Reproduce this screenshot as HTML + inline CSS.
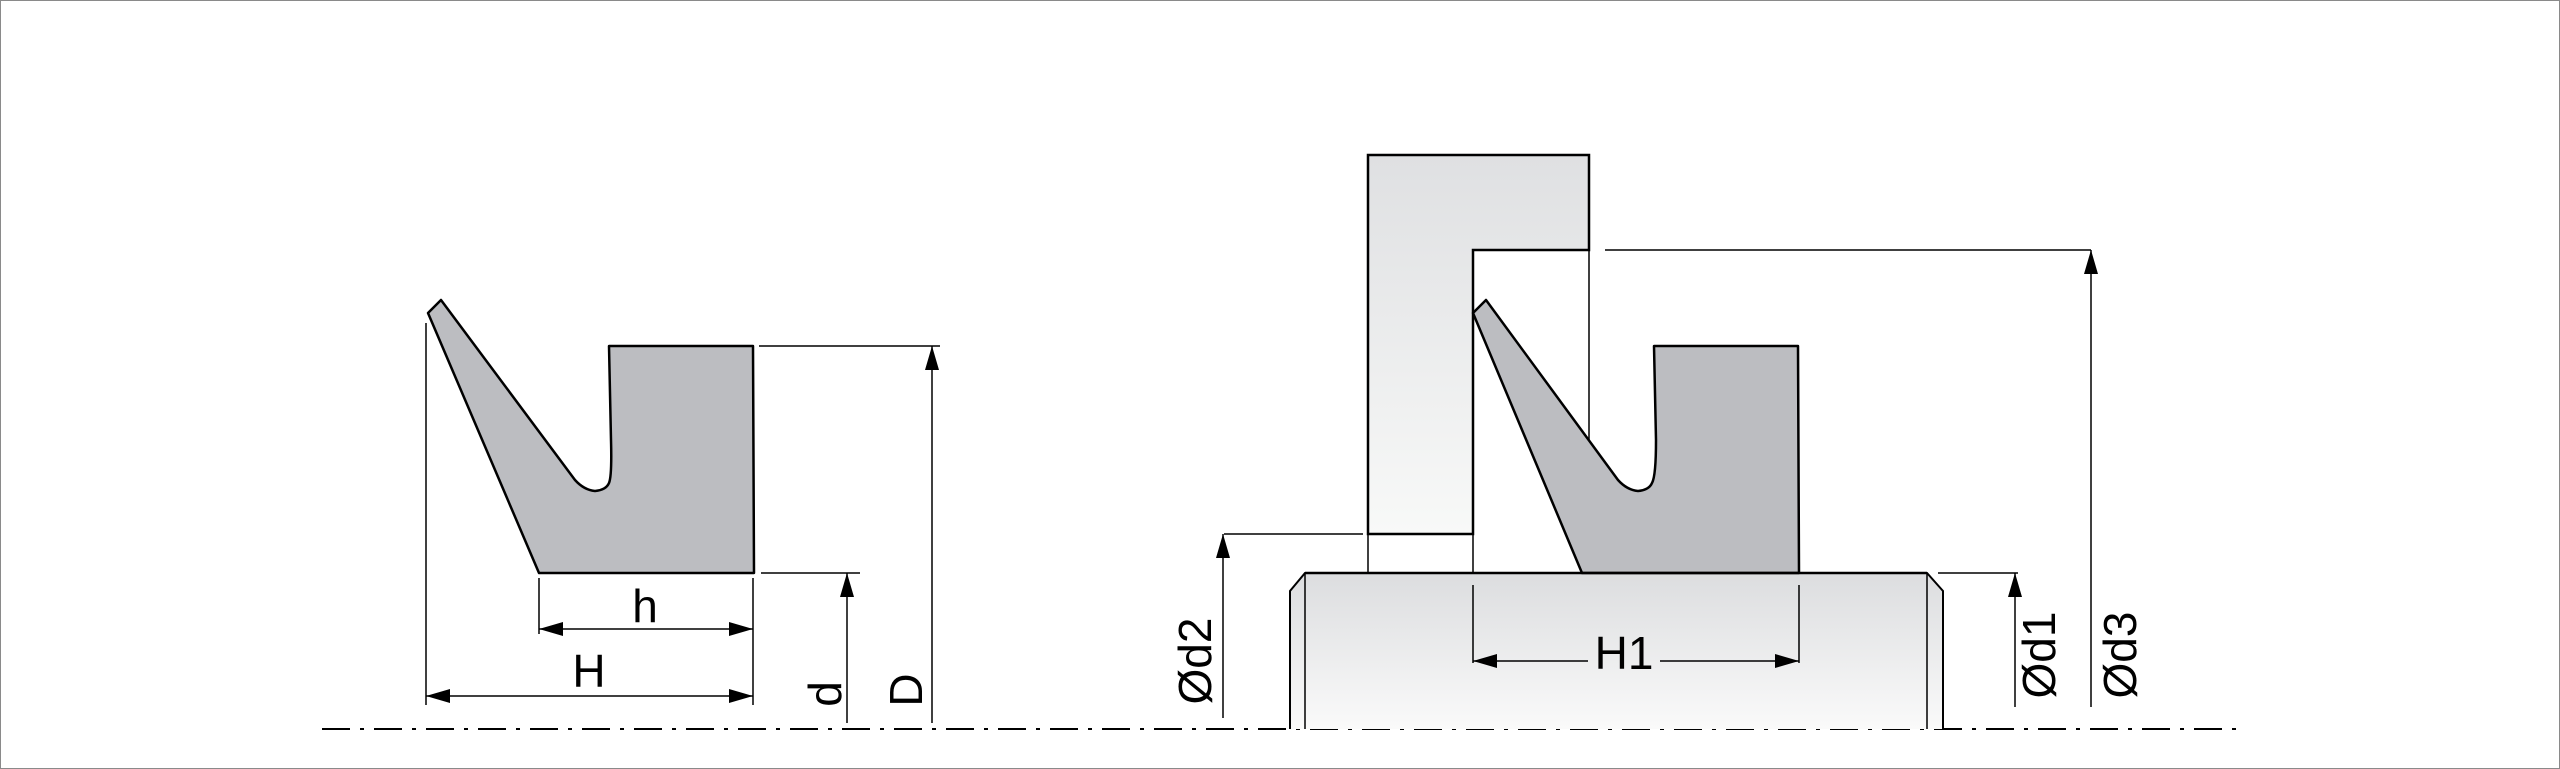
<!DOCTYPE html>
<html><head><meta charset="utf-8"><style>
html,body{margin:0;padding:0;background:#fff;}
svg{display:block;}
text{font-family:"Liberation Sans",Arial,sans-serif;font-size:46px;fill:#000;}
</style></head><body>
<svg width="2560" height="769" viewBox="0 0 2560 769" xmlns="http://www.w3.org/2000/svg">
<defs>
<linearGradient id="g1" x1="0" y1="0" x2="0" y2="1"><stop offset="0" stop-color="#dfe0e2"/><stop offset="1" stop-color="#f8f9f8"/></linearGradient>
<linearGradient id="g2" x1="0" y1="0" x2="0" y2="1"><stop offset="0" stop-color="#dcdddf"/><stop offset="1" stop-color="#fafafa"/></linearGradient>
</defs>
<rect x="0.5" y="0.5" width="2559" height="768" fill="#fff" stroke="#8a8a8a" stroke-width="1"/>

<line x1="322" y1="729" x2="2237" y2="729" stroke="#000" stroke-width="2" stroke-dasharray="28 10 4 10"/>

<!-- LEFT SEAL -->
<path d="M428,313 L441,300 L575,480 Q584,490 595,491 Q606,490 609,483 Q612,476 611,440 L609,346 L753,346 L754,573 L539,573 Z" fill="#bcbdc1" stroke="#000" stroke-width="2.5" stroke-linejoin="round"/>
<g stroke="#000" stroke-width="1.5" fill="none">
<line x1="426" y1="323" x2="426" y2="705"/>
<line x1="539" y1="578" x2="539" y2="634"/>
<line x1="753" y1="578" x2="753" y2="705"/>
<line x1="759" y1="346" x2="940" y2="346"/>
<line x1="761" y1="573" x2="860" y2="573"/>
<line x1="539" y1="629" x2="753" y2="629"/>
<line x1="426" y1="696" x2="753" y2="696"/>
<line x1="932" y1="346" x2="932" y2="723"/>
<line x1="847" y1="573" x2="847" y2="723"/>
</g>
<g fill="#000">
<polygon points="539,629 563,622 563,636"/><polygon points="753,629 729,622 729,636"/>
<polygon points="426,696 450,689 450,703"/><polygon points="753,696 729,689 729,703"/>
<polygon points="932,346 925,370 939,370"/>
<polygon points="847,573 840,597 854,597"/>
</g>
<text x="645" y="622" text-anchor="middle">h</text>
<text x="589" y="687" text-anchor="middle">H</text>
<text transform="translate(841,694) rotate(-90)" text-anchor="middle">d</text>
<text transform="translate(922,690) rotate(-90)" text-anchor="middle">D</text>

<!-- RIGHT ASSEMBLY -->
<path d="M1290,729 L1290,591 L1305,573 L1927,573 L1943,591 L1943,729" fill="url(#g2)" stroke="#000" stroke-width="2"/>
<line x1="1305" y1="573" x2="1305" y2="729" stroke="#000" stroke-width="1.5"/>
<line x1="1927" y1="573" x2="1927" y2="729" stroke="#000" stroke-width="1.5"/>
<path d="M1368,155 L1589,155 L1589,250 L1473,250 L1473,534 L1368,534 Z" fill="url(#g1)" stroke="#000" stroke-width="2.5"/>
<g stroke="#000" stroke-width="1.5" fill="none">
<line x1="1589" y1="250" x2="1589" y2="440"/>
<line x1="1368" y1="534" x2="1368" y2="573"/>
<line x1="1473" y1="534" x2="1473" y2="573"/>
</g>
<path d="M1473,313 L1486,300 L1618,480 Q1627,490 1638,491 Q1649,490 1652,483 Q1656,476 1656,440 L1654,346 L1798,346 L1799,573 L1582,573 Z" fill="#bcbdc1" stroke="#000" stroke-width="2.5" stroke-linejoin="round"/>
<line x1="1305" y1="573" x2="1927" y2="573" stroke="#000" stroke-width="2.5"/>
<g stroke="#000" stroke-width="1.5" fill="none">
<line x1="1473" y1="585" x2="1473" y2="663"/>
<line x1="1799" y1="585" x2="1799" y2="663"/>
<line x1="1473" y1="661" x2="1588" y2="661"/>
<line x1="1660" y1="661" x2="1799" y2="661"/>
<line x1="1224" y1="534" x2="1363" y2="534"/>
<line x1="1223" y1="534" x2="1223" y2="718"/>
<line x1="1938" y1="573" x2="2018" y2="573"/>
<line x1="2015" y1="573" x2="2015" y2="707"/>
<line x1="1605" y1="250" x2="2091" y2="250"/>
<line x1="2091" y1="250" x2="2091" y2="707"/>
</g>
<g fill="#000">
<polygon points="1473,661 1497,654 1497,668"/><polygon points="1799,661 1775,654 1775,668"/>
<polygon points="1223,534 1216,558 1230,558"/>
<polygon points="2015,573 2008,597 2022,597"/>
<polygon points="2091,250 2084,274 2098,274"/>
</g>
<text x="1624" y="669" text-anchor="middle">H1</text>
<text transform="translate(1211,661) rotate(-90)" text-anchor="middle">Ød2</text>
<text transform="translate(2055,655) rotate(-90)" text-anchor="middle">Ød1</text>
<text transform="translate(2136,655) rotate(-90)" text-anchor="middle">Ød3</text>
</svg>
</body></html>
